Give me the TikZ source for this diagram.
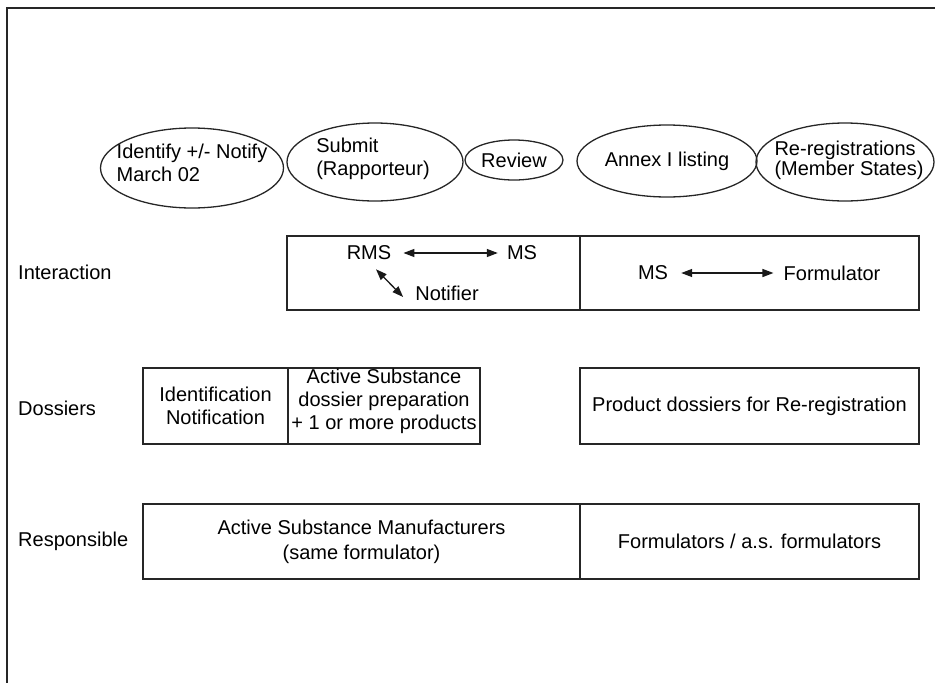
\documentclass[tikz,border=0pt]{standalone}
\usepackage{fontspec}
\setmainfont{Liberation Sans}
\usetikzlibrary{shapes.geometric,arrows.meta,calc}
\begin{document}
\begin{tikzpicture}[x=1pt,y=-1pt,
  every node/.style={font=\fontsize{20}{23}\selectfont, inner sep=0pt, text=black},
  ell/.style={draw=black!85, ellipse, line width=1.3pt},
  cell/.style={draw=black!85, line width=1.3pt},
  lbl/.style={anchor=west},
  dbl/.style={line width=1.3pt, black!90, {Triangle[length=11pt,width=8pt]}-{Triangle[length=11pt,width=8pt]}}
]
\useasboundingbox (0,0) rectangle (935,683);
% frame
\draw[line width=2pt, black!85] (7,683) -- (7,8) -- (935,8);

% ellipses
\node[ell, minimum width=183pt, minimum height=80pt] (e1) at (192,168) {};
\node[align=left] (t1) at (192,163) {Identify +/- Notify\\March 02};
\node[ell, minimum width=176pt, minimum height=78pt] (e2) at (375,162) {};
\node[align=left] (t2) at (373,159) {Submit\\(Rapporteur)};
\node[ell, minimum width=98pt, minimum height=40pt] (e3) at (514,160) {Review};
\node[ell, minimum width=180pt, minimum height=72pt] (e4) at (667,161) {Annex I listing};
\node[ell, minimum width=178pt, minimum height=78pt] (e5) at (845,162) {};
\node[align=left, font=\fontsize{20}{20}\selectfont] (t5) at (849,160) {Re-registrations\\(Member States)};

% row labels
\node[lbl] (lint) at (18,272) {Interaction};
\node[lbl] (ldos) at (18,408) {Dossiers};
\node[lbl] (lres) at (18,541) {Responsible};

% interaction row
\node[cell, minimum width=293pt, minimum height=74pt] (i1) at (433.5,273) {};
\node[cell, minimum width=339pt, minimum height=74pt] (i2) at (749.5,273) {};
\node (rms) at (369,253) {RMS};
\node (ms1) at (522,253) {MS};
\node (notif) at (447,293) {Notifier};
\node (ms2) at (653,273) {MS};
\node (form) at (832,273) {Formulator};
\draw[dbl, shorten <=12pt, shorten >=9pt] (rms.east) -- (ms1.west);
\draw[dbl, shorten <=13pt, shorten >=10pt] (ms2.east) -- (form.west);
\draw[dbl] ($(rms.south)+(7,9)$) -- ($(notif.west)+(-12,4)$);

% dossiers row
\node[cell, minimum width=145pt, minimum height=76pt, align=center] (d1) at (215.5,406) {Identification\\Notification};
\node[cell, minimum width=192pt, minimum height=76pt] (d2) at (384,406) {};
\node[align=center] (d2t) at (384,401) {Active Substance\\dossier preparation\\+ 1 or more products};
\node[cell, minimum width=339pt, minimum height=76pt] (d3) at (749.5,406) {Product dossiers for Re-registration};

% responsible row
\node[cell, minimum width=437pt, minimum height=75pt, align=center, font=\fontsize{20}{25}\selectfont] (r1) at (361.5,541.5) {Active Substance Manufacturers\\(same formulator)};
\node[cell, minimum width=339pt, minimum height=75pt] (r2) at (749.5,541.5) {Formulators / a.s. formulators};
\end{tikzpicture}
\end{document}
